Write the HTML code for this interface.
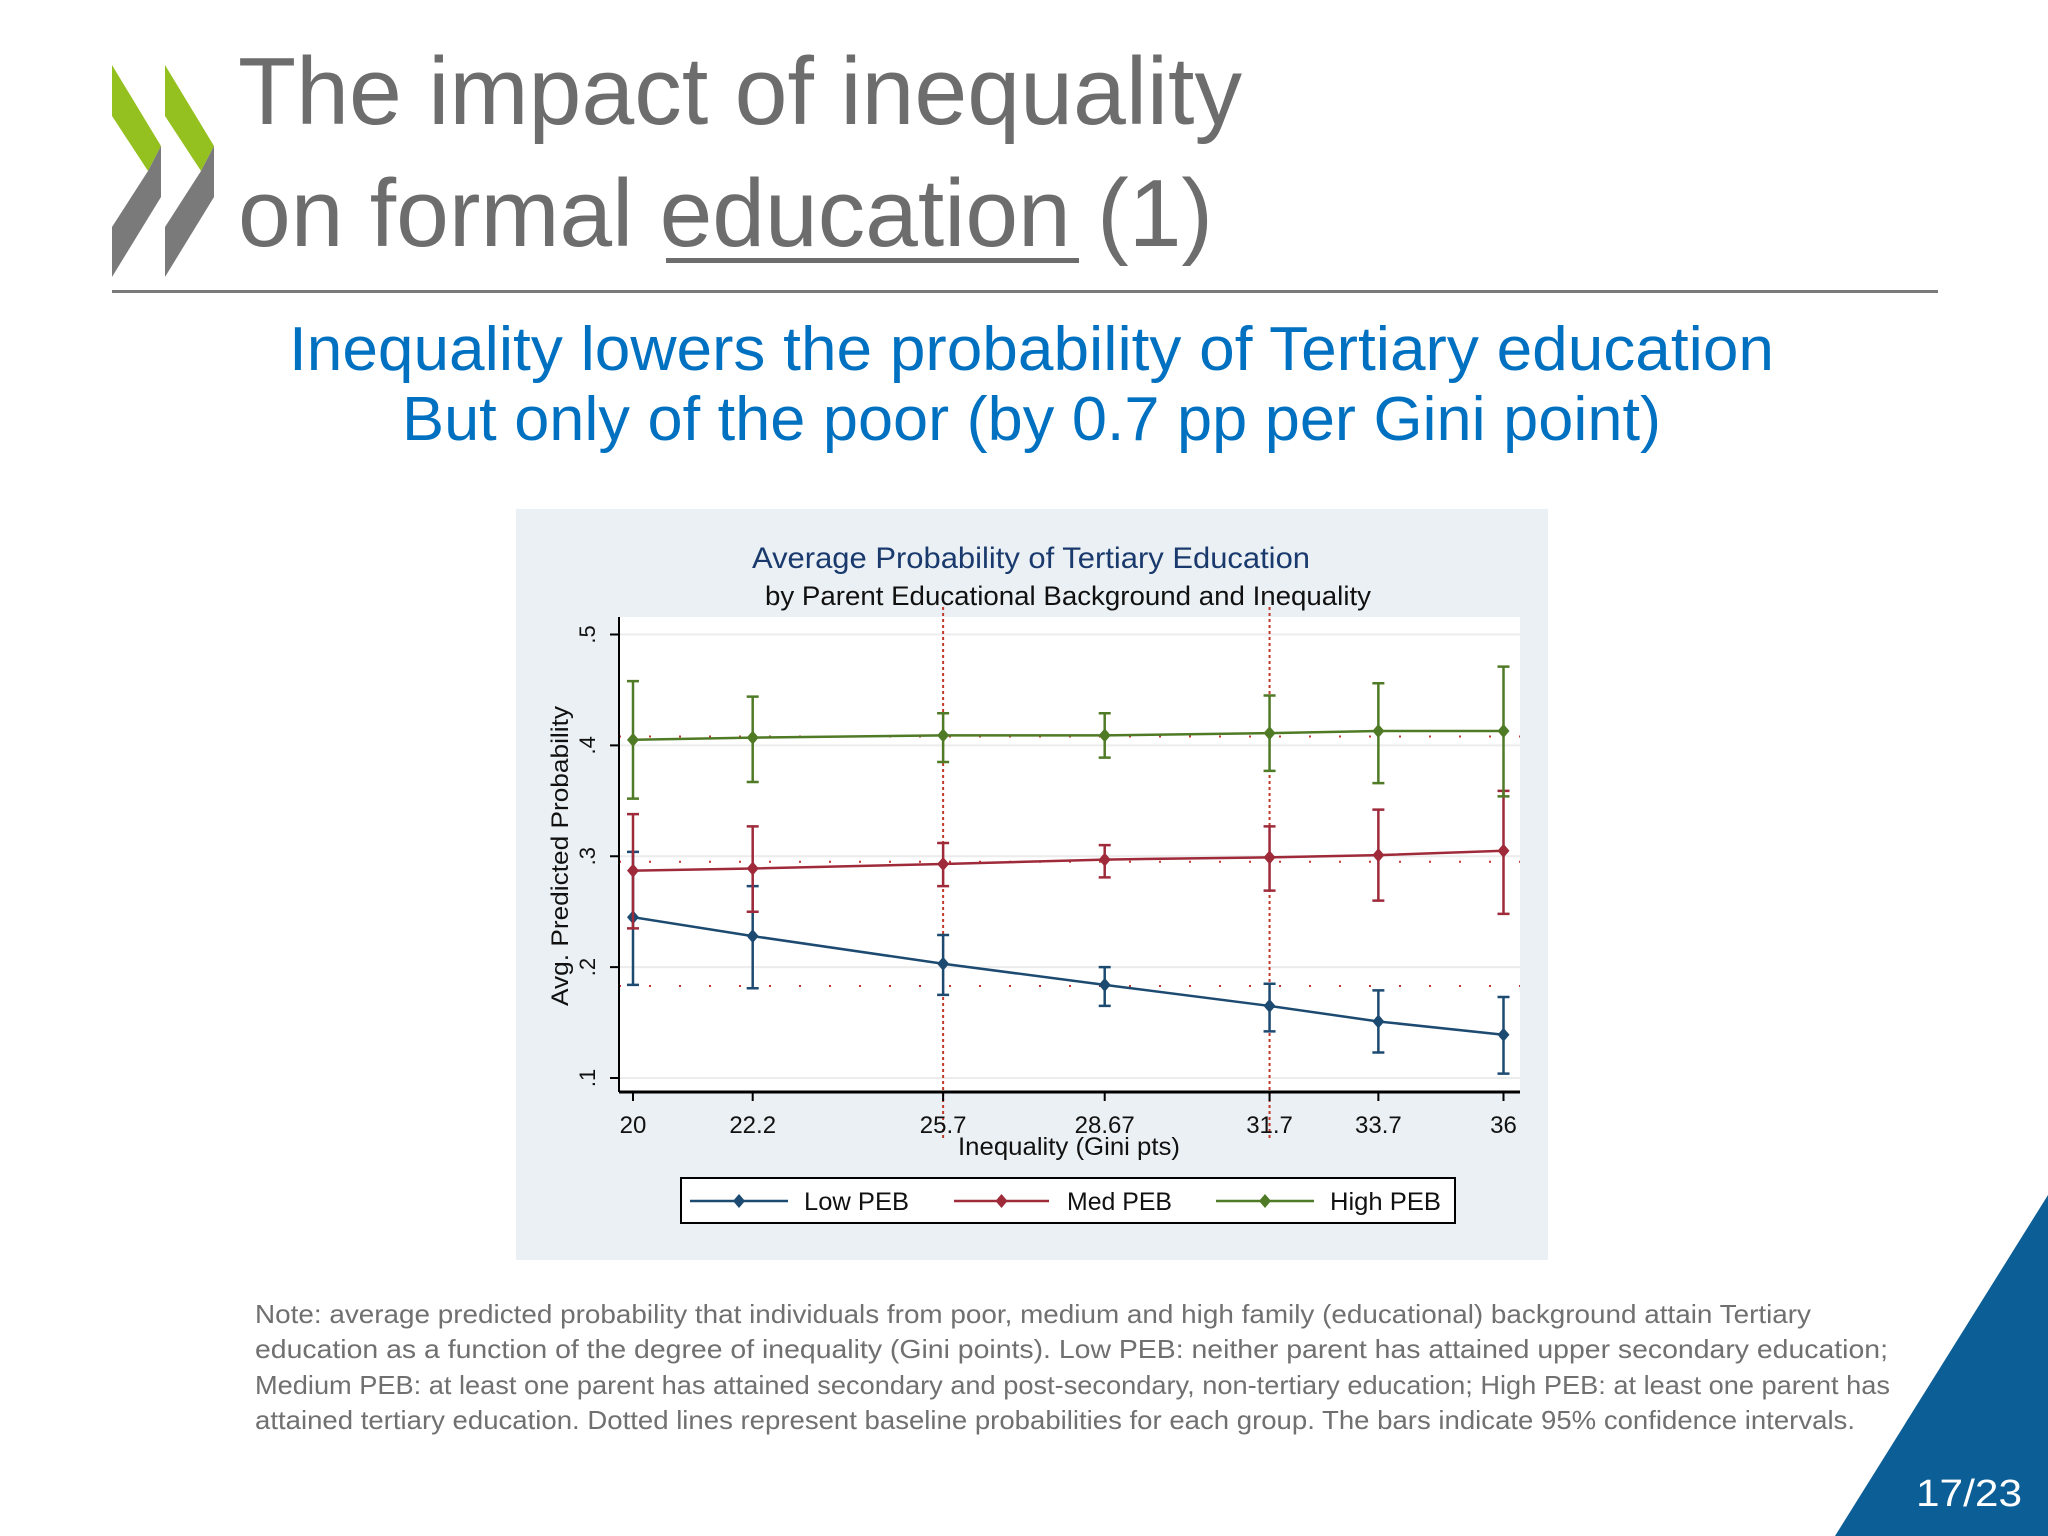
<!DOCTYPE html>
<html><head><meta charset="utf-8"><style>
html,body{margin:0;padding:0;background:#fff;}
svg{display:block;font-family:"Liberation Sans",sans-serif;}
</style></head><body>
<svg id="root" width="2048" height="1536" viewBox="0 0 2048 1536" xmlns="http://www.w3.org/2000/svg">
<rect width="2048" height="1536" fill="#ffffff"/>
<g>
<polygon points="112,65 161,146 148,171 112,116" fill="#94c11f"/>
<polygon points="148,171 161,146 161,197 112,277 112,227" fill="#7a7a7a"/>
<polygon points="165,65 214,146 201,171 165,116" fill="#94c11f"/>
<polygon points="201,171 214,146 214,197 165,277 165,227" fill="#7a7a7a"/>
</g>
<text x="238" y="124" font-size="96" fill="#6d6d6d" textLength="1004" lengthAdjust="spacingAndGlyphs">The impact of inequality</text>
<text x="238" y="246" font-size="96" fill="#6d6d6d" textLength="975" lengthAdjust="spacingAndGlyphs">on formal education (1)</text>
<rect x="666" y="258" width="413" height="5" fill="#6d6d6d"/>
<rect x="112" y="290" width="1826" height="3" fill="#7a7a7a"/>
<text x="289" y="370" font-size="62" fill="#0070c0" textLength="1485" lengthAdjust="spacingAndGlyphs">Inequality lowers the probability of Tertiary education</text>
<text x="402" y="440" font-size="62" fill="#0070c0" textLength="1259" lengthAdjust="spacingAndGlyphs">But only of the poor (by 0.7 pp per Gini point)</text>

<g id="chart">
<rect x="516" y="509" width="1032" height="751" fill="#eaf0f3"/>
<rect x="619" y="617" width="901" height="475" fill="#ffffff"/>
<text x="752" y="568" font-size="30" fill="#1a3a6e" textLength="558" lengthAdjust="spacingAndGlyphs">Average Probability of Tertiary Education</text>
<text x="765" y="605" font-size="27" fill="#111" textLength="606" lengthAdjust="spacingAndGlyphs">by Parent Educational Background and Inequality</text>
<text transform="translate(568,856) rotate(-90)" text-anchor="middle" font-size="24" fill="#111" textLength="300" lengthAdjust="spacingAndGlyphs">Avg. Predicted Probability</text>
<text x="1069" y="1155" text-anchor="middle" font-size="25" fill="#111" textLength="222" lengthAdjust="spacingAndGlyphs">Inequality (Gini pts)</text>
<g id="grid"></g><g id="refs"></g><g id="series"></g><g id="axes"></g>
<rect x="681" y="1178" width="774" height="45" fill="#fff" stroke="#000" stroke-width="2"/>
<g id="legend"></g>
</g>

<text x="255" y="1323" font-size="26" fill="#707070" textLength="1556" lengthAdjust="spacingAndGlyphs">Note: average predicted probability that individuals from poor, medium and high family (educational) background attain Tertiary</text>
<text x="255" y="1358" font-size="26" fill="#707070" textLength="1633" lengthAdjust="spacingAndGlyphs">education as a function of the degree of inequality (Gini points). Low PEB: neither parent has attained upper secondary education;</text>
<text x="255" y="1394" font-size="26" fill="#707070" textLength="1635" lengthAdjust="spacingAndGlyphs">Medium PEB: at least one parent has attained secondary and post-secondary, non-tertiary education; High PEB: at least one parent has</text>
<text x="255" y="1429" font-size="26" fill="#707070" textLength="1600" lengthAdjust="spacingAndGlyphs">attained tertiary education. Dotted lines represent baseline probabilities for each group. The bars indicate 95% confidence intervals.</text>
<polygon points="2048,1195 2048,1536 1835,1536" fill="#0b5e96"/>
<text x="1916" y="1506" font-size="38" fill="#ffffff" textLength="106" lengthAdjust="spacingAndGlyphs">17/23</text>
</svg>
<script>
const categories = [20, 22.2, 25.7, 28.67, 31.7, 33.7, 36];
const xTickLabels = ["20", "22.2", "25.7", "28.67", "31.7", "33.7", "36"];
const yTicks = [0.1, 0.2, 0.3, 0.4, 0.5];
const yTickLabels = [".1", ".2", ".3", ".4", ".5"];
const seriesNames = ["Low PEB", "Med PEB", "High PEB"];
const lowVals = [0.245, 0.228, 0.203, 0.184, 0.165, 0.151, 0.139];
const lowLo = [0.184, 0.181, 0.175, 0.165, 0.142, 0.123, 0.104];
const lowHi = [0.304, 0.273, 0.229, 0.200, 0.185, 0.179, 0.173];
const medVals = [0.287, 0.289, 0.293, 0.297, 0.299, 0.301, 0.305];
const medLo = [0.235, 0.250, 0.273, 0.281, 0.269, 0.260, 0.248];
const medHi = [0.338, 0.327, 0.312, 0.310, 0.327, 0.342, 0.359];
const highVals = [0.405, 0.407, 0.409, 0.409, 0.411, 0.413, 0.413];
const highLo = [0.352, 0.367, 0.385, 0.389, 0.377, 0.366, 0.354];
const highHi = [0.458, 0.444, 0.429, 0.429, 0.445, 0.456, 0.471];
const baselines = [0.183, 0.295, 0.408];
const refLines = [25.7, 31.7];

const NS = "http://www.w3.org/2000/svg";
const X0 = 633, X1 = 1503.5, Y0 = 1078, Y1 = 634.5;
function xs(v){ return X0 + (v - 20) / (36 - 20) * (X1 - X0); }
function ys(v){ return Y0 + (v - 0.1) / (0.5 - 0.1) * (Y1 - Y0); }
function mk(tag, attrs, parent){ const e = document.createElementNS(NS, tag); for (const k in attrs) e.setAttribute(k, attrs[k]); parent.appendChild(e); return e; }
const grid = document.getElementById('grid'), refs = document.getElementById('refs'), ser = document.getElementById('series'), axes = document.getElementById('axes'), leg = document.getElementById('legend');

yTicks.forEach((t, i) => {
  const g = mk('line', {x1: 619, x2: 1520, y1: ys(t), y2: ys(t), stroke: '#ececec', 'stroke-width': 2}, grid);
  
  
  const tk = mk('line', {x1: 610, x2: 619, y1: ys(t), y2: ys(t), stroke: '#000', 'stroke-width': 2}, axes);
  
  
  const lb = mk('text', {transform: 'translate(595,' + ys(t) + ') rotate(-90)', 'text-anchor': 'middle', 'font-size': 22, fill: '#111'}, axes);
  lb.textContent = yTickLabels[i];
  
  
});
const yax = mk('line', {x1: 619, x2: 619, y1: 617, y2: 1092, stroke: '#000', 'stroke-width': 2}, axes);


const xax = mk('line', {x1: 619, x2: 1520, y1: 1092, y2: 1092, stroke: '#000', 'stroke-width': 3}, axes);


categories.forEach((c, i) => {
  const tk = mk('line', {x1: xs(c), x2: xs(c), y1: 1092, y2: 1101, stroke: '#000', 'stroke-width': 2}, axes);
  
  
  const lb = mk('text', {x: xs(c), y: 1133, 'text-anchor': 'middle', 'font-size': 24, fill: '#111'}, axes);
  lb.textContent = xTickLabels[i];
  
  
});
baselines.forEach(b => {
  const l = mk('line', {x1: 619, x2: 1520, y1: ys(b), y2: ys(b), stroke: '#c0392b', 'stroke-width': 2, 'stroke-dasharray': '2 28'}, refs);
  
  
});
refLines.forEach(r => {
  const l = mk('line', {x1: xs(r), x2: xs(r), y1: 607, y2: 1141, stroke: '#c0392b', 'stroke-width': 2, 'stroke-dasharray': '3 3'}, refs);
  
  
});
const colors = ['#1c4a70', '#9e2a3a', '#4f7a26'];
const allV = [lowVals, medVals, highVals], allLo = [lowLo, medLo, highLo], allHi = [lowHi, medHi, highHi];
allV.forEach((vals, s) => {
  const col = colors[s];
  const pl = mk('polyline', {points: vals.map((v, i) => xs(categories[i]) + ',' + ys(v)).join(' '), fill: 'none', stroke: col, 'stroke-width': 2.5}, ser);
  
  
  vals.forEach((v, i) => {
    const x = xs(categories[i]);
    const eb = mk('path', {d: 'M' + x + ',' + ys(allLo[s][i]) + 'V' + ys(allHi[s][i]) + 'M' + (x - 6) + ',' + ys(allLo[s][i]) + 'h12M' + (x - 6) + ',' + ys(allHi[s][i]) + 'h12', stroke: col, 'stroke-width': 2.5, fill: 'none'}, ser);
    
    
    const y = ys(v);
    const m = mk('polygon', {points: x + ',' + (y - 7) + ' ' + (x + 6) + ',' + y + ' ' + x + ',' + (y + 7) + ' ' + (x - 6) + ',' + y, fill: col}, ser);
    
    
  });
});
const legX = [[690, 788, 804, 105], [954, 1049, 1067, 105], [1216, 1314, 1330, 111]];
seriesNames.forEach((n, s) => {
  const [a, b, tx, tw] = legX[s];
  const l = mk('line', {x1: a, x2: b, y1: 1201, y2: 1201, stroke: colors[s], 'stroke-width': 2.5}, leg);
  
  
  const c = (a + b) / 2;
  const m = mk('polygon', {points: c + ',1194 ' + (c + 6) + ',1201 ' + c + ',1208 ' + (c - 6) + ',1201', fill: colors[s]}, leg);
  
  
  const t = mk('text', {x: tx, y: 1210, 'font-size': 25, fill: '#111', textLength: tw, lengthAdjust: 'spacingAndGlyphs'}, leg);
  t.textContent = n;
  
  
});
</script>
</body></html>
